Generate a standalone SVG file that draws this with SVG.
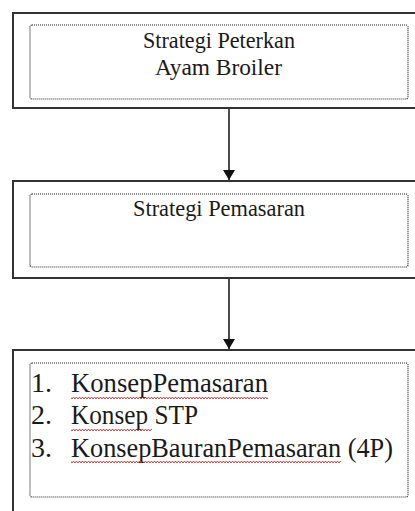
<svg xmlns="http://www.w3.org/2000/svg" width="415" height="511" viewBox="0 0 415 511">
<defs>
<style>
.outer{fill:#fff;stroke:#333;stroke-width:2}
.inner{fill:none;stroke:#222;stroke-width:1.2;stroke-dasharray:1 1}
.t{font-family:"Liberation Serif","Times New Roman",serif;fill:#1a1a1a}
.conn{stroke:#111;stroke-width:1.5;fill:none}
</style>
<marker id="arr" markerWidth="12" markerHeight="12" refX="10" refY="6" orient="auto" markerUnits="userSpaceOnUse">
<path d="M0,0 L10,6 L0,12 Z" fill="#111"/>
</marker>
<pattern id="wave" x="0" y="0" width="3" height="4" patternUnits="userSpaceOnUse">
<path d="M0,3 L1.5,1 L3,3" fill="none" stroke="#d42a2a" stroke-width="0.9"/>
</pattern>
</defs>
<rect width="415" height="511" fill="#fff"/>
<g id="connectors">
<line class="conn" x1="229" y1="108" x2="229" y2="180" marker-end="url(#arr)"/>
<line class="conn" x1="229" y1="278" x2="229" y2="349" marker-end="url(#arr)"/>
</g>
<g id="node1">
<rect class="outer" x="13" y="13" width="420" height="95"/>
<rect class="inner" x="30" y="25" width="378" height="74" rx="2"/>
<text class="t" x="143" y="48" font-size="24" textLength="152" lengthAdjust="spacingAndGlyphs">Strategi Peterkan</text>
<text class="t" x="155" y="75" font-size="24" textLength="127" lengthAdjust="spacingAndGlyphs">Ayam Broiler</text>
</g>
<g id="node2">
<rect class="outer" x="13" y="181" width="420" height="97"/>
<rect class="inner" x="30" y="194" width="378" height="73" rx="2"/>
<text class="t" x="133" y="216" font-size="24" textLength="172" lengthAdjust="spacingAndGlyphs">Strategi Pemasaran</text>
</g>
<g id="node3">
<rect class="outer" x="13" y="350" width="420" height="170"/>
<rect class="inner" x="30" y="363" width="378" height="134" rx="2"/>
<text class="t" font-size="28">
<tspan x="31" y="392">1.</tspan><tspan x="71" y="392" textLength="197" lengthAdjust="spacingAndGlyphs">KonsepPemasaran</tspan>
</text>
<text class="t" font-size="28">
<tspan x="31" y="424">2.</tspan><tspan x="71" y="424" textLength="127" lengthAdjust="spacingAndGlyphs">Konsep STP</tspan>
</text>
<text class="t" font-size="28">
<tspan x="31" y="457">3.</tspan><tspan x="71" y="457" textLength="322" lengthAdjust="spacingAndGlyphs">KonsepBauranPemasaran (4P)</tspan>
</text>
<rect x="71" y="396" width="197" height="4" fill="url(#wave)"/>
<rect x="71" y="428" width="81" height="4" fill="url(#wave)"/>
<rect x="71" y="460" width="270" height="4" fill="url(#wave)"/>
</g>
</svg>
